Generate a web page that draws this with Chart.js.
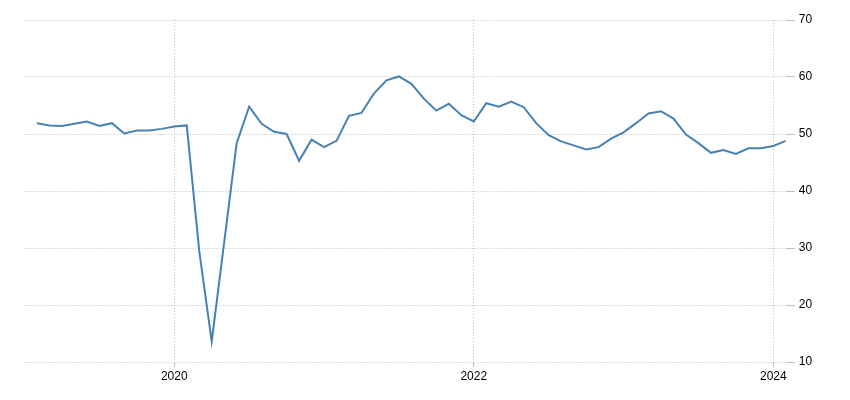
<!DOCTYPE html>
<html>
<head>
<meta charset="utf-8">
<script src="https://cdn.jsdelivr.net/npm/chart.js@4"></script>
<style>
	html, body { margin: 0; padding: 0; background: #fff; }
	canvas { display: block; }
</style>
</head>
<body>
<canvas id="pmiChart" width="850" height="400"></canvas>
<script>
// Monthly readings, Feb 2019 - Feb 2024
const months = [
	"2019-02", "2019-03", "2019-04", "2019-05", "2019-06", "2019-07", "2019-08", "2019-09", "2019-10", "2019-11", "2019-12",
	"2020-01", "2020-02", "2020-03", "2020-04", "2020-05", "2020-06", "2020-07", "2020-08", "2020-09", "2020-10", "2020-11", "2020-12",
	"2021-01", "2021-02", "2021-03", "2021-04", "2021-05", "2021-06", "2021-07", "2021-08", "2021-09", "2021-10", "2021-11", "2021-12",
	"2022-01", "2022-02", "2022-03", "2022-04", "2022-05", "2022-06", "2022-07", "2022-08", "2022-09", "2022-10", "2022-11", "2022-12",
	"2023-01", "2023-02", "2023-03", "2023-04", "2023-05", "2023-06", "2023-07", "2023-08", "2023-09", "2023-10", "2023-11", "2023-12",
	"2024-01", "2024-02",
];

const values = [
	51.9, 51.5, 51.4, 51.8, 52.2, 51.4, 51.9, 50.1, 50.6, 50.6, 50.9,
	51.3, 51.5, 29.5, 13.6, 31.0, 48.4, 54.8, 51.8, 50.4, 50.0, 45.3, 49.0,
	47.7, 48.8, 53.2, 53.7, 57.1, 59.4, 60.1, 58.8, 56.2, 54.1, 55.3, 53.3,
	52.2, 55.4, 54.8, 55.7, 54.7, 51.9, 49.8, 48.7, 48.0, 47.3, 47.7, 49.2,
	50.3, 51.9, 53.6, 54.0, 52.7, 49.9, 48.4, 46.7, 47.2, 46.5, 47.5, 47.5,
	47.9, 48.8,
];

// x axis runs in months counted from Jan 2019
const xTickMonths = ["2020-01", "2022-01", "2024-01"];
const xTickLabels = ["2020", "2022", "2024"];
const yTicks = [10, 20, 30, 40, 50, 60, 70];

function monthIndex(ym) {
	const parts = ym.split("-");
	return (parseInt(parts[0]) - 2019) * 12 + (parseInt(parts[1]) - 1);
}

const points = months.map((m, i) => ({ x: monthIndex(m), y: values[i] }));
const xTickValues = xTickMonths.map(monthIndex);

const gridColor = "#bdbdbd";
const tickFont = { family: "'Liberation Sans', Arial, sans-serif", size: 12 };

new Chart(document.getElementById("pmiChart").getContext("2d"), {
	type: "line",
	data: {
		datasets: [
			{
				data: points,
				borderColor: "#4682b4",
				borderWidth: 2,
				pointRadius: 0,
				tension: 0,
				fill: false,
			},
		],
	},
	options: {
		responsive: false,
		animation: false,
		layout: {
			padding: { left: 24.5, top: 20, right: 0, bottom: 0 },
		},
		plugins: {
			legend: { display: false },
			tooltip: { enabled: false },
		},
		scales: {
			x: {
				type: "linear",
				min: 0,
				max: monthIndex(months[months.length - 1]),
				afterBuildTicks: (scale) => {
					scale.ticks = xTickValues.map((v) => ({ value: v }));
				},
				afterFit: (scale) => {
					scale.height = 38;
				},
				ticks: {
					autoSkip: false,
					maxRotation: 0,
					color: "#000",
					font: tickFont,
					padding: 2,
					callback: (value) => xTickLabels[xTickValues.indexOf(value)],
				},
				grid: {
					color: gridColor,
					lineWidth: 1,
					tickLength: 5,
				},
				border: { display: false, dash: [1, 2] },
			},
			y: {
				position: "right",
				min: 10,
				max: 70,
				afterBuildTicks: (scale) => {
					scale.ticks = yTicks.map((v) => ({ value: v }));
				},
				afterFit: (scale) => {
					scale.width = 64.2;
				},
				ticks: {
					color: "#000",
					font: tickFont,
					padding: 4,
				},
				grid: {
					color: gridColor,
					lineWidth: 1,
					tickLength: 9,
				},
				border: { display: false, dash: [1, 2] },
			},
		},
	},
});
</script>
</body>
</html>
